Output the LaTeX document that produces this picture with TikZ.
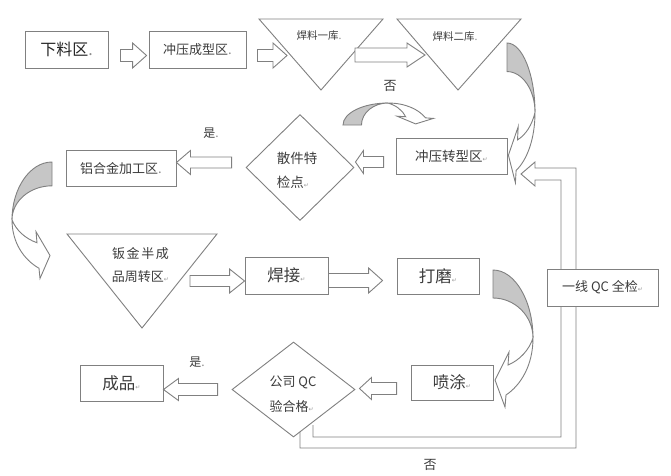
\documentclass[tikz,border=0pt]{standalone}
\usepackage{fontspec}
\setmainfont{Noto Sans CJK SC}
\newfontfamily\dejavu{DejaVu Sans}
\usetikzlibrary{calc,shapes.geometric}
\definecolor{lncol}{HTML}{808080}
\definecolor{shcol}{HTML}{C6C6C6}
\definecolor{tx}{HTML}{3C3C3C}
\newcommand\pmark{{\color{black!40}\dejavu\fontsize{6}{6}\selectfont ↵}}
\newcommand\pdot{{\color{black!45}.}}
% block arrow: #1 tail point, #2 tip point, #3 shaft half, #4 head half, #5 signed head length
\newcommand\harrow[5]{\draw[blk] let \p1=#1, \p2=#2 in
  (\x1,{\y1+#3pt}) -- ({\x2-(#5pt)},{\y1+#3pt}) -- ({\x2-(#5pt)},{\y1+#4pt}) -- (\x2,\y1)
  -- ({\x2-(#5pt)},{\y1-#4pt}) -- ({\x2-(#5pt)},{\y1-#3pt}) -- (\x1,{\y1-#3pt}) -- cycle;}
% curved arrow in local frame (u right, v down)
\newcommand\curvarrow{%
  \filldraw[blk, fill=shcol] (0,0) .. controls (22,0) and (40,31) .. (40,68)
    .. controls (40,46) and (22,28) .. (0,28) -- cycle;
  \filldraw[blk] (40,68) .. controls (40,95) and (28,115) .. (13,125) -- (12,137) -- (2,110)
    -- (16,82) -- (15,95) .. controls (27,90) and (36,80) .. (40,68) -- cycle;}
\begin{document}
\begin{tikzpicture}[x=1pt,y=-1pt,line join=miter,
  blk/.style={draw=lncol,line width=0.9pt,fill=white},
  box/.style={draw=lncol,line width=0.9pt,fill=white,inner sep=0pt,text=tx},
  dia/.style={diamond,draw=lncol,line width=0.9pt,fill=white,inner sep=0pt},
  lab/.style={inner sep=0pt,text=tx}]
\useasboundingbox (0,0) rectangle (671,475);
\fill[white] (0,0) rectangle (671,475);

% QC loop (bent double-line arrow)
\draw[draw=lncol,line width=0.9pt] (300,425) -- (300,448) -- (576,448) -- (576,168) -- (535,168)
  -- (535,162) -- (521,174) -- (535,186) -- (535,180) -- (561,180) -- (561,437) -- (313,437) -- (313,425);

% boxes
\node[box,minimum width=83pt,minimum height=37pt,font=\fontsize{16}{16}\selectfont,text=black!85] (xl) at (66.5,49.5) {下料区\pdot};
\node[box,minimum width=97pt,minimum height=37pt,font=\fontsize{13}{13}\selectfont] (cy) at (197.5,49.5) {冲压成型区\pdot};
\node[box,minimum width=111pt,minimum height=36pt,font=\fontsize{13.5}{13.5}\selectfont] (zx) at (451.5,156) {冲压转型区\pmark};
\node[box,minimum width=110pt,minimum height=36pt,font=\fontsize{13}{13}\selectfont] (lh) at (121,168) {铝合金加工区\pdot};
\node[box,minimum width=83pt,minimum height=37pt,font=\fontsize{16.5}{16.5}\selectfont] (hj) at (286.5,275.5) {焊接\pmark};
\node[box,minimum width=82pt,minimum height=36pt,font=\fontsize{16.5}{16.5}\selectfont] (dm) at (438,276) {打磨\pmark};
\node[box,minimum width=111pt,minimum height=37pt,font=\fontsize{13}{13}\selectfont] (qc) at (602.5,287.5) {一线 QC 全检\pmark};
\node[box,minimum width=82pt,minimum height=35pt,font=\fontsize{16.5}{16.5}\selectfont] (pt) at (452,382.5) {喷涂\pmark};
\node[box,minimum width=83pt,minimum height=36pt,font=\fontsize{16.5}{16.5}\selectfont] (cp) at (121.5,383) {成品\pmark};

% diamonds
\node[dia,minimum width=108pt,minimum height=106pt] (d1) at (300,167.5) {};
\node[lab,align=left,font=\fontsize{13.5}{24}\selectfont] (d1t) at (297,170) {散件特\\检点\pmark};
\node[dia,minimum width=123pt,minimum height=95pt] (d2) at (293.5,389.5) {};
\node[lab,align=left,font=\fontsize{13}{25}\selectfont] (d2t) at (293,394) {公司 QC\\验合格\pmark};

% triangles
\coordinate (t1a) at (259,19); \coordinate (t1b) at (383,19); \coordinate (t1c) at (321,90);
\draw[blk] (t1a) -- (t1b) -- (t1c) -- cycle;
\node[lab,font=\fontsize{10.5}{10.5}\selectfont] (t1) at (319,36) {焊料一库\pdot};
\coordinate (t2a) at (397,19); \coordinate (t2b) at (521,19); \coordinate (t2c) at (458,90);
\draw[blk] (t2a) -- (t2b) -- (t2c) -- cycle;
\node[lab,font=\fontsize{10.5}{10.5}\selectfont] (t2) at (455,37) {焊料二库\pdot};
\coordinate (t3a) at (67,234); \coordinate (t3b) at (217,234); \coordinate (t3c) at (142,328);
\draw[blk] (t3a) -- (t3b) -- (t3c) -- cycle;
\node[lab,align=center,font=\fontsize{13}{23}\selectfont] (t3) at (140.5,265) {\makebox[57pt][s]{钣\hfil 金\hfil 半\hfil 成}\\品周转区\pmark};

% block arrows
\harrow{([shift={(12,6)}]xl.east)}{([shift={(-2,0)}]cy.west)}{6}{12.5}{14}
\harrow{([shift={(11,6)}]cy.east)}{([shift={(28,36)}]t1a)}{6}{12.5}{14}
\harrow{([shift={(-28,36)}]t1b)}{([shift={(28,36)}]t2a)}{7}{12}{18}
\harrow{([shift={(-12,6)}]zx.west)}{([shift={(1,0)}]d1.east)}{5.5}{11.5}{-8}
\harrow{([shift={(-14,-5)}]d1.west)}{(lh.east)}{5.5}{12}{-14}
\harrow{([shift={(-27,47)}]t3b)}{(hj.west)}{5.5}{12}{15}
\harrow{([shift={(0,5)}]hj.east)}{([shift={(-14,0)}]dm.west)}{7}{12.5}{14}
\harrow{([shift={(-14,6)}]pt.west)}{([shift={(4,0)}]d2.east)}{6}{11}{-12}
\harrow{([shift={(-14,0)}]d2.west)}{(cp.east)}{6}{11}{-15}

% curved arrows
\begin{scope}[shift={(507,43)},xscale=0.7,yscale=1.02]\curvarrow\end{scope}
\begin{scope}[cm={0,0.55,-0.66,0,(343,125)}]\curvarrow\end{scope}
\begin{scope}[shift={(52,162)},xscale=-1,yscale=0.85]\curvarrow\end{scope}
\begin{scope}[shift={(493,270)}]\curvarrow\end{scope}

% labels
\node[lab,font=\fontsize{13}{13}\selectfont] (no1) at (390,86) {否};
\node[lab,font=\fontsize{12}{12}\selectfont] (yes1) at (211,133) {是\pdot};
\node[lab,font=\fontsize{12}{12}\selectfont] (yes2) at (197,362) {是\pdot};
\node[lab,font=\fontsize{13}{13}\selectfont] (no2) at (430,465) {否};
\end{tikzpicture}
\end{document}
